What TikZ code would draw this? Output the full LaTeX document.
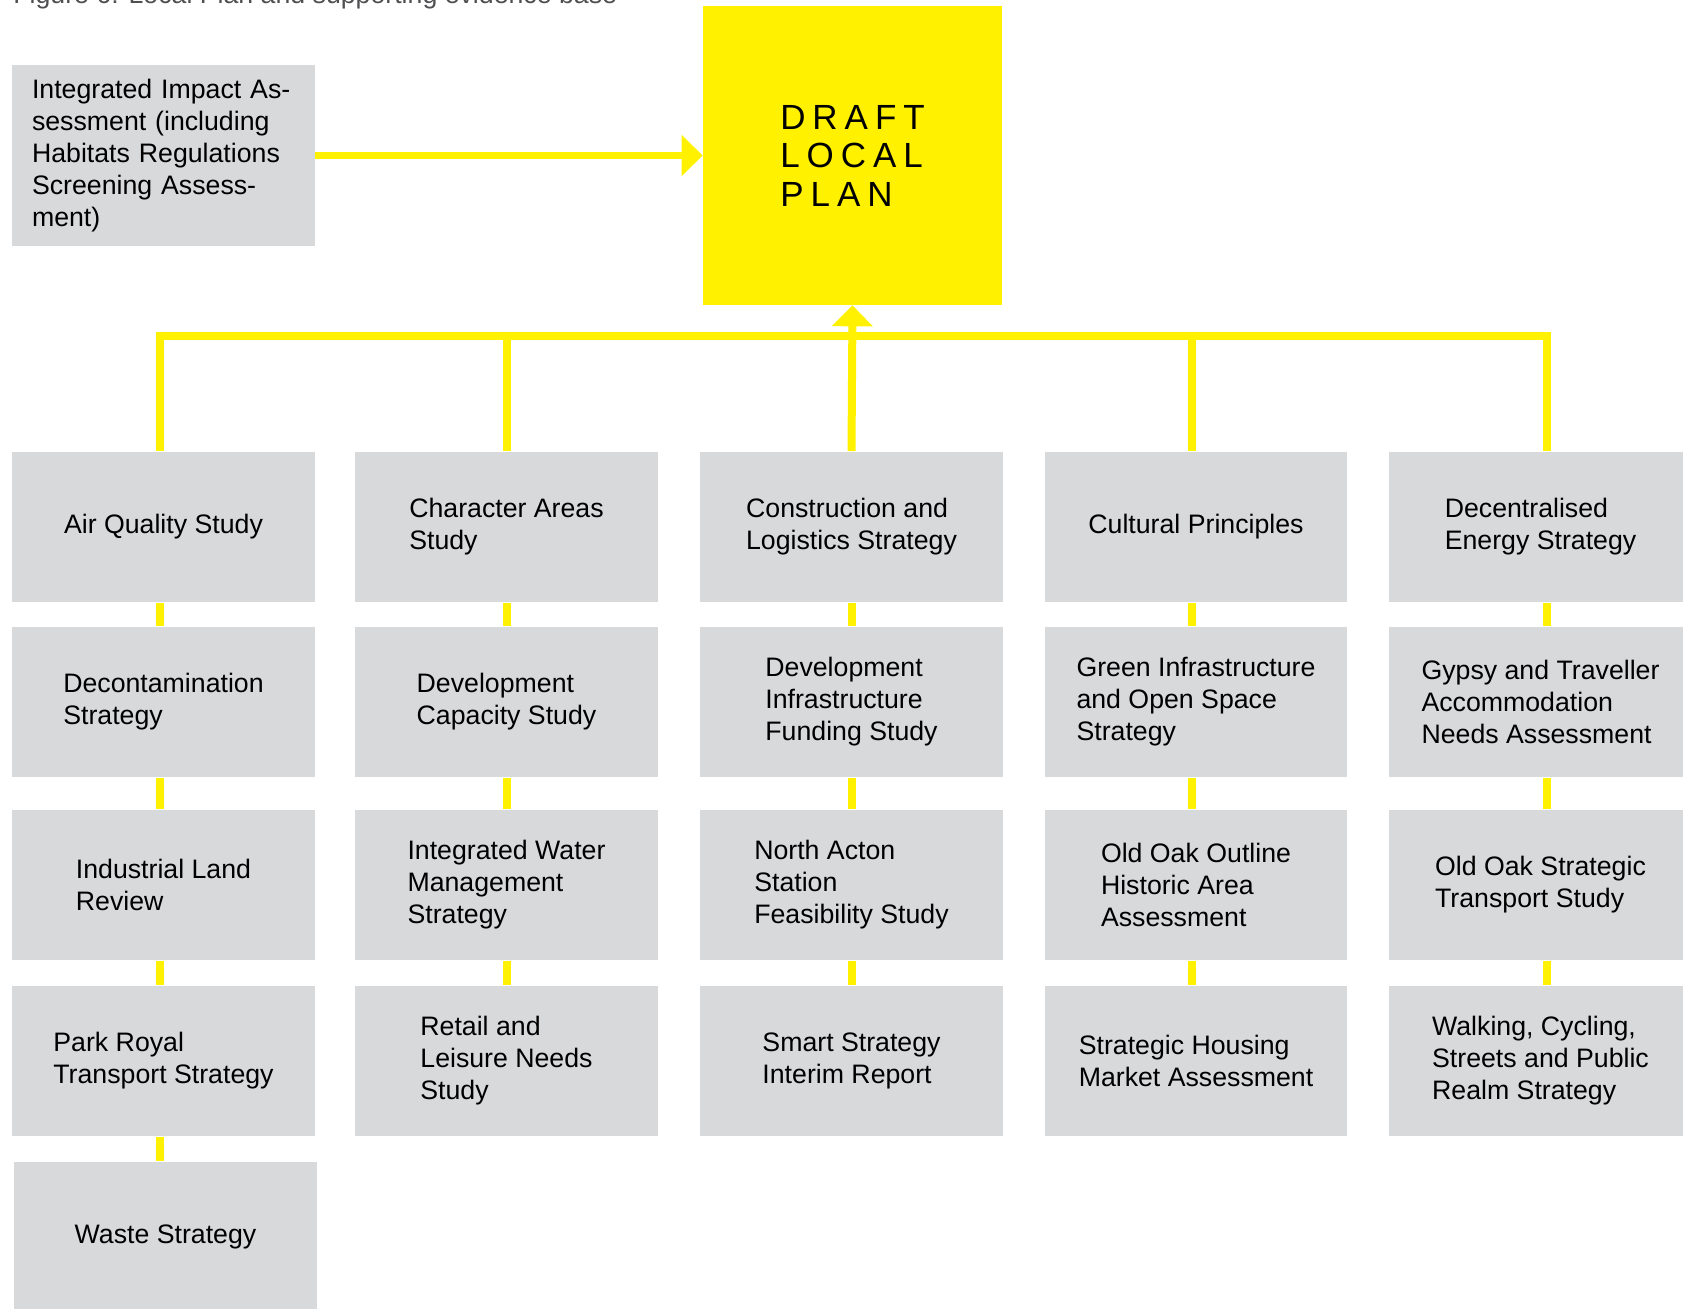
\documentclass[tikz,border=0pt]{standalone}
\usepackage{fontspec}
\setmainfont{Liberation Sans}
\usetikzlibrary{arrows.meta}
\definecolor{planyellow}{HTML}{FFF100}
\definecolor{studygray}{HTML}{D8D9DB}
\definecolor{captiongray}{HTML}{4F4F52}
\tikzset{
	study/.style={fill=studygray, minimum width=6.06cm, minimum height=3.02cm, inner sep=0pt, align=left, font=\fontsize{15.2pt}{18.2pt}\selectfont},
	link/.style={draw=planyellow, line width=0.16cm},
	feed/.style={link, -{Triangle[length=0.42cm, width=0.8cm]}}
}

\begin{document}
\begin{tikzpicture}[x=0.02cm, y=-0.02cm]
		%%%%% START %%%%%
		\useasboundingbox (0, 0) rectangle (1683, 1308);
		
		\node[anchor=base west, inner sep=0pt, text=captiongray, font=\fontsize{15.2pt}{18.2pt}\selectfont] (caption) at (13, 4) {Figure 6: Local Plan and supporting evidence base};
		
		\node[study, minimum height=3.62cm, text width=5.26cm] (iia) at (163.5, 155.5) {Integrated Impact As-\\sessment (including\\Habitats Regulations\\Screening Assess-\\ment)};
		\node[fill=planyellow, minimum size=5.98cm, inner sep=0pt, align=left, font=\fontsize{19.9pt}{21.9pt}\selectfont\addfontfeature{LetterSpace=20}] (plan) at (852.5, 155.5) {DRAFT\\LOCAL\\PLAN};
		
		\node[study] (aq) at (163.5, 527) {Air Quality Study};
		\node[study] (dc) at (163.5, 702) {Decontamination\\Strategy};
		\node[study] (il) at (163.5, 885) {Industrial Land\\Review};
		\node[study] (pr) at (163.5, 1061) {Park Royal\\Transport Strategy};
		\node[study] (ws) at (165.5, 1237) {Waste Strategy};
		
		\node[study] (ca) at (506.5, 527) {Character Areas\\Study};
		\node[study] (dv) at (506.5, 702) {Development\\Capacity Study};
		\node[study] (iw) at (506.5, 885) {Integrated Water\\Management\\Strategy};
		\node[study] (rl) at (506.5, 1061) {Retail and\\Leisure Needs\\Study};
		
		\node[study] (cl) at (851.5, 527) {Construction and\\Logistics Strategy};
		\node[study] (di) at (851.5, 702) {Development\\Infrastructure\\Funding Study};
		\node[study] (na) at (851.5, 885) {North Acton\\Station\\Feasibility Study};
		\node[study] (ss) at (851.5, 1061) {Smart Strategy\\Interim Report};
		
		\node[study] (cp) at (1196, 527) {Cultural Principles};
		\node[study] (gi) at (1196, 702) {Green Infrastructure\\and Open Space\\Strategy};
		\node[study] (oo) at (1196, 885) {Old Oak Outline\\Historic Area\\Assessment};
		\node[study] (sh) at (1196, 1061) {Strategic Housing\\Market Assessment};
		
		\node[study] (de) at (1540.5, 527) {Decentralised\\Energy Strategy};
		\node[study] (gt) at (1540.5, 702) {Gypsy and Traveller\\Accommodation\\Needs Assessment};
		\node[study] (ot) at (1540.5, 885) {Old Oak Strategic\\Transport Study};
		\node[study] (wc) at (1540.5, 1061) {Walking, Cycling,\\Streets and Public\\Realm Strategy};
		
		% feed into the plan
		\coordinate (bar) at (852, 336);
		\draw[feed] (iia.east) -- (plan.west);
		\draw[link] ([xshift=-0.07cm]aq.north) |- (bar) -| ([xshift=0.12cm]de.north);
		\draw[link] (ca.north) -- (ca.north |- bar);
		\draw[link] ([xshift=-0.08cm]cp.north) -- ([xshift=-0.08cm]cp.north |- bar);
		\draw[feed] (cl.north) -- (plan.south);
		
		% columns
		\draw[link] ([xshift=-0.07cm]aq.south) -- ([xshift=-0.07cm]dc.north);
		\draw[link] ([xshift=-0.07cm]dc.south) -- ([xshift=-0.07cm]il.north);
		\draw[link] ([xshift=-0.07cm]il.south) -- ([xshift=-0.07cm]pr.north);
		\draw[link] ([xshift=-0.07cm]pr.south) -- ([xshift=-0.07cm]pr.south |- ws.north);
		
		\draw[link] (ca.south) -- (dv.north);
		\draw[link] (dv.south) -- (iw.north);
		\draw[link] (iw.south) -- (rl.north);
		
		\draw[link] (cl.south) -- (di.north);
		\draw[link] (di.south) -- (na.north);
		\draw[link] (na.south) -- (ss.north);
		
		\draw[link] ([xshift=-0.08cm]cp.south) -- ([xshift=-0.08cm]gi.north);
		\draw[link] ([xshift=-0.08cm]gi.south) -- ([xshift=-0.08cm]oo.north);
		\draw[link] ([xshift=-0.08cm]oo.south) -- ([xshift=-0.08cm]sh.north);
		
		\draw[link] ([xshift=0.12cm]de.south) -- ([xshift=0.12cm]gt.north);
		\draw[link] ([xshift=0.12cm]gt.south) -- ([xshift=0.12cm]ot.north);
		\draw[link] ([xshift=0.12cm]ot.south) -- ([xshift=0.12cm]wc.north);
		%%%%% END %%%%%
\end{tikzpicture}
\end{document}
